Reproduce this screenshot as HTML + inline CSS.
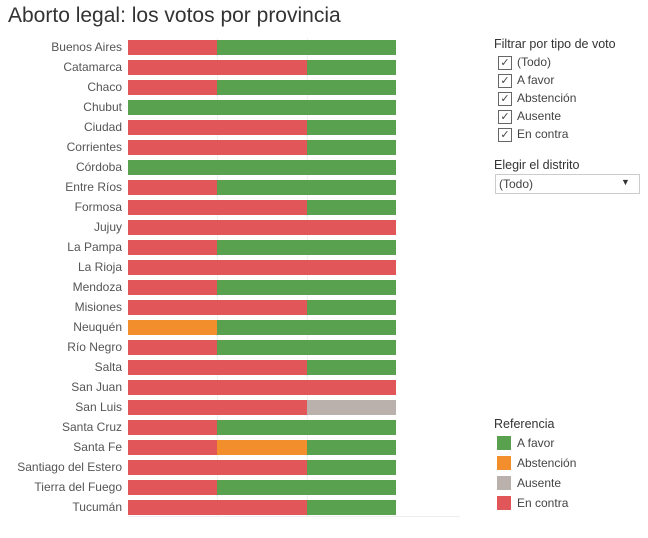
<!DOCTYPE html>
<html><head><meta charset="utf-8"><style>
body{margin:0;width:648px;height:538px;background:#fff;font-family:"Liberation Sans","DejaVu Sans",sans-serif;position:relative;overflow:hidden}
.t{position:absolute;white-space:nowrap}
.lab{position:absolute;right:526px;font-size:12px;color:#555;line-height:15px}
.seg{position:absolute;height:15px}
.R{background:#e15759}.G{background:#59a14f}.O{background:#f28e2b}.A{background:#bab0ac}
.cb{position:absolute;left:498px;width:12px;height:12px;border:1px solid #666;font-size:11px;line-height:12px;text-align:center;color:#444}
.ct{position:absolute;left:517px;font-size:12px;color:#444}
.sw{position:absolute;left:497px;width:14px;height:14px}
</style></head><body>
<div class="t" style="left:8px;top:4px;font-size:21px;color:#333">Aborto legal: los votos por provincia</div>
<div style="position:absolute;left:217px;top:38px;width:1px;height:478px;background:#f0f0f0"></div>
<div style="position:absolute;left:307px;top:38px;width:1px;height:478px;background:#f0f0f0"></div>
<div style="position:absolute;left:128px;top:516px;width:332px;height:1px;background:#eee"></div>
<div id="c"></div>
<div class="t" style="left:494px;top:37px;font-size:12.5px;color:#333">Filtrar por tipo de voto</div>
<div class="cb" style="top:56px">✓</div><div class="ct" style="top:55px">(Todo)</div>
<div class="cb" style="top:74px">✓</div><div class="ct" style="top:73px">A favor</div>
<div class="cb" style="top:92px">✓</div><div class="ct" style="top:91px">Abstención</div>
<div class="cb" style="top:110px">✓</div><div class="ct" style="top:109px">Ausente</div>
<div class="cb" style="top:128px">✓</div><div class="ct" style="top:127px">En contra</div>
<div class="t" style="left:494px;top:158px;font-size:12.5px;color:#333">Elegir el distrito</div>
<div style="position:absolute;left:495px;top:174px;width:143px;height:18px;border:1px solid #ccc"></div>
<div class="t" style="left:499px;top:177px;font-size:12px;color:#444">(Todo)</div>
<div class="t" style="left:621px;top:177px;font-size:9px;color:#333">▼</div>
<div class="t" style="left:494px;top:417px;font-size:12.5px;color:#333">Referencia</div>
<div class="sw G" style="top:436px"></div><div class="ct" style="top:436px">A favor</div>
<div class="sw O" style="top:456px"></div><div class="ct" style="top:456px">Abstención</div>
<div class="sw A" style="top:476px"></div><div class="ct" style="top:476px">Ausente</div>
<div class="sw R" style="top:496px"></div><div class="ct" style="top:496px">En contra</div>
<script>
var d=[["Buenos Aires","RGG"],["Catamarca","RRG"],["Chaco","RGG"],["Chubut","GGG"],["Ciudad","RRG"],["Corrientes","RRG"],["Córdoba","GGG"],["Entre Ríos","RGG"],["Formosa","RRG"],["Jujuy","RRR"],["La Pampa","RGG"],["La Rioja","RRR"],["Mendoza","RGG"],["Misiones","RRG"],["Neuquén","OGG"],["Río Negro","RGG"],["Salta","RRG"],["San Juan","RRR"],["San Luis","RRA"],["Santa Cruz","RGG"],["Santa Fe","ROG"],["Santiago del Estero","RRG"],["Tierra del Fuego","RGG"],["Tucumán","RRG"]];
var xs=[128,217,307,396],h="";
d.forEach(function(r,i){var y=40+20*i;h+='<div class="lab" style="top:'+y+'px">'+r[0]+'</div>';
for(var k=0;k<3;k++)h+='<div class="seg '+r[1][k]+'" style="top:'+y+'px;left:'+xs[k]+'px;width:'+(xs[k+1]-xs[k])+'px"></div>';});
document.getElementById("c").innerHTML=h;
</script>
</body></html>
